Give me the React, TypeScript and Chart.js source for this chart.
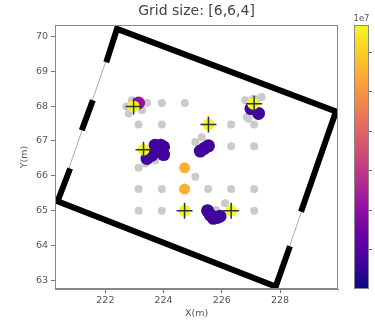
import React, { useEffect, useRef } from "react";
import { Chart, registerables } from "chart.js";
Chart.register(...registerables);

const TITLE = "Grid size: [6,6,4]";
const X_LABEL = "X(m)";
const Y_LABEL = "Y(m)";
const X_RANGE = [220.27, 229.99];
const Y_RANGE = [62.75, 70.33];
const X_TICKS = [222, 224, 226, 228];
const Y_TICKS = [63, 64, 65, 66, 67, 68, 69, 70];
const CB_RANGE = [0, 1.336];
const CB_TICKS = [0.2, 0.4, 0.6, 0.8, 1.0, 1.2];
const CB_EXP = "1e7";

// plasma colormap stops
const PLASMA = ["#0d0887", "#41049d", "#6a00a8", "#8f0da4", "#b12a90", "#cc4778", "#e16462", "#f2844b", "#fca636", "#fcce25", "#f0f921"];

// light gray candidate / sample points
const GRAY_X = [223.14, 223.94, 224.73, 223.14, 223.94, 226.32, 227.11, 226.32, 227.11, 223.14, 223.14, 223.94, 225.53, 226.32, 227.11, 223.14, 223.94, 227.11,
  222.72, 222.8, 223.26, 223.43, 222.91, 226.8, 227.37, 226.86, 227.08, 226.91, 227.2, 223.37, 223.71, 225.09, 225.31, 225.09, 226.11, 225.8];
const GRAY_Y = [68.09, 68.09, 68.09, 67.47, 67.47, 67.47, 67.47, 66.85, 66.85, 66.23, 65.62, 65.62, 65.62, 65.62, 65.62, 65.0, 65.0, 65.0,
  67.99, 67.79, 67.88, 68.09, 68.17, 68.17, 68.26, 67.69, 68.21, 67.64, 68.2, 66.35, 66.44, 66.97, 67.11, 65.97, 65.21, 65.02];

// coloured points (value in units of 1e7)
const VAL_X = [227.0, 227.26, 223.43, 223.6, 223.71, 224.0, 224.0, 223.83, 223.9, 225.26, 225.4, 225.54, 225.51, 225.6, 225.71, 225.94, 225.82,
  223.14, 224.72, 224.72, 222.97, 227.08, 225.54, 223.31, 224.72, 226.32];
const VAL_Y = [67.93, 67.79, 66.5, 66.59, 66.88, 66.83, 66.61, 66.73, 66.88, 66.71, 66.79, 66.86, 65.0, 64.88, 64.78, 64.84, 64.8,
  68.09, 66.23, 65.62, 67.99, 68.07, 67.47, 66.75, 65.0, 65.0];
const VAL_V = [0.13, 0.13, 0.13, 0.13, 0.13, 0.13, 0.13, 0.13, 0.13, 0.13, 0.13, 0.13, 0.13, 0.13, 0.13, 0.13, 0.13,
  0.42, 1.1, 1.1, 1.336, 1.336, 1.336, 1.336, 1.336, 1.336];

// "+" markers
const CROSS_X = [222.97, 227.11, 225.54, 223.31, 224.72, 226.32];
const CROSS_Y = [67.99, 68.07, 67.47, 66.75, 65.0, 65.0];

// walls (thick segments) and openings (thin lines)
const WALL_X = [
  [222.03, 222.4, 229.92, 228.72],
  [228.34, 227.85, 220.36, 220.79],
  [221.57, 221.19],
];
const WALL_Y = [
  [69.26, 70.22, 67.85, 64.97],
  [63.98, 62.82, 65.27, 66.21],
  [68.17, 67.31],
];
const THIN_X = [[222.4, 220.36], [229.92, 227.85]];
const THIN_Y = [[70.22, 65.27], [67.85, 62.82]];

const FONT = "'DejaVu Sans', sans-serif";

function hexToRgb(h: string) {
  const n = parseInt(h.slice(1), 16);
  return [(n >> 16) & 255, (n >> 8) & 255, n & 255];
}
function plasma(t: number) {
  const c = Math.max(0, Math.min(1, t)) * (PLASMA.length - 1);
  const i = Math.min(PLASMA.length - 2, Math.floor(c));
  const f = c - i;
  const a = hexToRgb(PLASMA[i]);
  const b = hexToRgb(PLASMA[i + 1]);
  const m = a.map((v, k) => Math.round(v + (b[k] - v) * f));
  return `rgb(${m[0]},${m[1]},${m[2]})`;
}
const norm = (v: number) => (v - CB_RANGE[0]) / (CB_RANGE[1] - CB_RANGE[0]);

const decor = {
  id: "decor",
  afterDraw(chart: any) {
    const { ctx, chartArea: a } = chart;
    ctx.save();
    // frame
    ctx.strokeStyle = "#888";
    ctx.lineWidth = 1;
    ctx.strokeRect(a.left + 0.5, a.top + 0.5, a.right - a.left - 1, a.bottom - a.top - 1);
    // title
    ctx.fillStyle = "#444";
    ctx.font = `14px ${FONT}`;
    ctx.textAlign = "center";
    ctx.textBaseline = "middle";
    ctx.fillText(TITLE, (a.left + a.right) / 2, 11);
    // axis labels
    ctx.fillStyle = "#555";
    ctx.font = `9.5px ${FONT}`;
    ctx.fillText(X_LABEL, (a.left + a.right) / 2, 314);
    ctx.save();
    ctx.translate(25, (a.top + a.bottom) / 2);
    ctx.rotate(-Math.PI / 2);
    ctx.fillText(Y_LABEL, 0, 0);
    ctx.restore();
    // colorbar
    const cx0 = 354, cx1 = 369, cy0 = a.top, cy1 = a.bottom;
    const g = ctx.createLinearGradient(0, cy1, 0, cy0);
    for (let i = 0; i <= 40; i++) g.addColorStop(i / 40, plasma(i / 40));
    ctx.fillStyle = g;
    ctx.fillRect(cx0, cy0, cx1 - cx0, cy1 - cy0);
    ctx.strokeStyle = "#888";
    ctx.strokeRect(cx0 + 0.5, cy0 + 0.5, cx1 - cx0 - 1, cy1 - cy0 - 1);
    ctx.strokeStyle = "#666";
    CB_TICKS.forEach((v) => {
      const y = Math.round(cy1 - norm(v) * (cy1 - cy0)) + 0.5;
      ctx.beginPath();
      ctx.moveTo(cx1, y);
      ctx.lineTo(cx1 + 3, y);
      ctx.stroke();
    });
    ctx.fillStyle = "#555";
    ctx.font = `8.5px ${FONT}`;
    ctx.fillText(CB_EXP, (cx0 + cx1) / 2, 19);
    ctx.restore();
  },
};

export default function App() {
  const ref = useRef<HTMLCanvasElement | null>(null);
  useEffect(() => {
    document.body.style.margin = "0";
    const toPts = (xs: number[], ys: number[]) => xs.map((x, i) => ({ x, y: ys[i] }));
    const datasets: any[] = [];
    datasets.push({
      label: "cross",
      data: toPts(CROSS_X, CROSS_Y),
      pointStyle: "cross",
      pointRadius: 8,
      pointBorderColor: "#333",
      pointBorderWidth: 1.5,
      order: 0,
    });
    datasets.push({
      label: "value",
      data: toPts(VAL_X, VAL_Y),
      pointRadius: VAL_V.map((v) => (v > 1.2 ? 6 : v > 1 ? 5.5 : 6.5)),
      pointBackgroundColor: VAL_V.map((v) => plasma(norm(v))),
      pointBorderWidth: 0,
      order: 1,
    });
    datasets.push({
      label: "gray",
      data: toPts(GRAY_X, GRAY_Y),
      pointRadius: 4,
      pointBackgroundColor: "#cbcbcb",
      pointBorderWidth: 0,
      order: 2,
    });
    WALL_X.forEach((xs, i) =>
      datasets.push({
        label: "wall" + i,
        data: toPts(xs, WALL_Y[i]),
        showLine: true,
        pointRadius: 0,
        borderColor: "#000",
        borderWidth: 6,
        borderJoinStyle: "miter",
        borderCapStyle: "butt",
        order: 3,
      })
    );
    THIN_X.forEach((xs, i) =>
      datasets.push({
        label: "thin" + i,
        data: toPts(xs, THIN_Y[i]),
        showLine: true,
        pointRadius: 0,
        borderColor: "#aaa",
        borderWidth: 1,
        order: 4,
      })
    );
    const tickFont = { family: FONT, size: 9.5 };
    const chart = new Chart(ref.current as HTMLCanvasElement, {
      type: "scatter",
      data: { datasets },
      plugins: [decor],
      options: {
        animation: false,
        responsive: false,
        events: [],
        layout: { padding: { top: 25, right: 37, left: 0, bottom: 0 } },
        plugins: { legend: { display: false }, tooltip: { enabled: false }, title: { display: false } },
        scales: {
          x: {
            type: "linear",
            min: X_RANGE[0],
            max: X_RANGE[1],
            afterBuildTicks: (s: any) => {
              s.ticks = X_TICKS.map((v) => ({ value: v }));
            },
            afterFit: (s: any) => {
              s.height = 35;
            },
            grid: { drawOnChartArea: false, drawTicks: true, tickLength: 4, color: "#777" },
            border: { display: true, color: "#888", width: 1 },
            ticks: { font: tickFont, color: "#555", padding: 2, maxRotation: 0, autoSkip: false, callback: (v: any) => String(v) },
          },
          y: {
            type: "linear",
            min: Y_RANGE[0],
            max: Y_RANGE[1],
            afterBuildTicks: (s: any) => {
              s.ticks = Y_TICKS.map((v) => ({ value: v }));
            },
            afterFit: (s: any) => {
              s.width = 55;
            },
            grid: { drawOnChartArea: false, drawTicks: true, tickLength: 4, color: "#777" },
            border: { display: true, color: "#888", width: 1 },
            ticks: { font: tickFont, color: "#555", padding: 3, autoSkip: false, callback: (v: any) => String(v) },
          },
        },
      } as any,
    });
    return () => chart.destroy();
  }, []);
  return (
    <div style={{ position: "absolute", left: 0, top: 0, width: 375, height: 324 }}>
      <canvas ref={ref} width={375} height={324} style={{ display: "block", width: 375, height: 324 }} />
    </div>
  );
}
